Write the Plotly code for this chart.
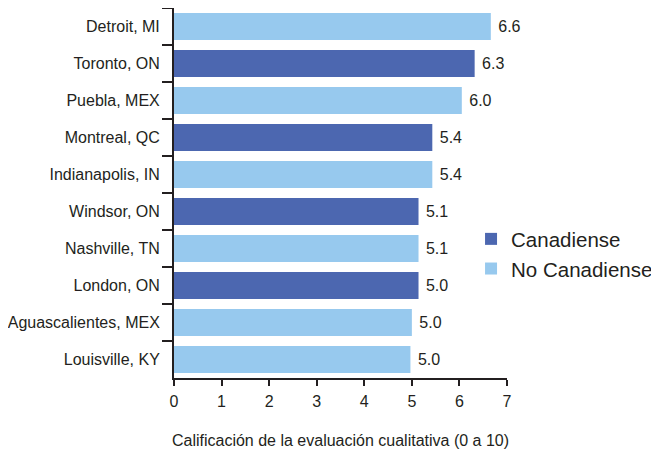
import plotly.graph_objects as go

cities = ["Detroit, MI", "Toronto, ON", "Puebla, MEX", "Montreal, QC", "Indianapolis, IN",
          "Windsor, ON", "Nashville, TN", "London, ON", "Aguascalientes, MEX", "Louisville, KY"]
values = [6.66, 6.32, 6.05, 5.43, 5.43, 5.14, 5.14, 5.14, 5.00, 4.97]
labels = ["6.6", "6.3", "6.0", "5.4", "5.4", "5.1", "5.1", "5.0", "5.0", "5.0"]
canadian = [False, True, False, True, False, True, False, True, False, False]

x_ticks = [0, 1, 2, 3, 4, 5, 6, 7]
x_title = "Calificación de la evaluación cualitativa (0 a 10)"
series_names = ["Canadiense", "No Canadiense"]
colors = {"Canadiense": "#4C67B0", "No Canadiense": "#97C9EE"}

FONT = "Liberation Sans, Arial, Helvetica, sans-serif"
TXT = "#231F20"

fig = go.Figure()
for name, flag in zip(series_names, [True, False]):
    idx = [i for i, c in enumerate(canadian) if c == flag]
    fig.add_trace(go.Bar(
        name=name,
        orientation="h",
        y=[cities[i] for i in idx],
        x=[values[i] for i in idx],
        text=[labels[i] for i in idx],
        texttemplate=" %{text}",
        textposition="outside",
        textfont=dict(family=FONT, size=16, color=TXT),
        marker=dict(color=colors[name], line=dict(width=0)),
        width=0.73,
        cliponaxis=False,
    ))

# page body has an 8px default margin, so the figure is sized to fit the window
fig.update_layout(
    width=651, height=443,
    margin=dict(l=166, r=152, t=0, b=73, autoexpand=False),
    paper_bgcolor="white", plot_bgcolor="white",
    barmode="relative",
    font=dict(family=FONT, size=16, color=TXT),
    showlegend=True,
    legend=dict(
        x=0.892, xanchor="left", y=0.335, yanchor="middle",
        font=dict(family=FONT, size=20.5, color=TXT),
        itemwidth=30, tracegroupgap=0, bgcolor="rgba(0,0,0,0)",
    ),
    xaxis=dict(
        range=[0, 7], tickvals=x_ticks, ticktext=[str(t) for t in x_ticks],
        showgrid=False, zeroline=False, automargin=False,
        showline=True, linecolor=TXT, linewidth=2,
        ticks="outside", ticklen=6, tickwidth=2, tickcolor=TXT,
        ticklabelstandoff=2,
        tickfont=dict(family=FONT, size=16, color=TXT),
        title=dict(text=x_title, font=dict(family=FONT, size=16, color=TXT), standoff=26),
    ),
    yaxis=dict(
        categoryorder="array", categoryarray=cities, autorange="reversed",
        showgrid=False, zeroline=False, automargin=False,
        showline=True, linecolor=TXT, linewidth=2,
        ticks="outside", ticklen=10, tickwidth=2, tickcolor=TXT, tickson="boundaries",
        ticklabelstandoff=9,
        tickfont=dict(family=FONT, size=16, color=TXT),
    ),
)

fig.write_html("out.html")
